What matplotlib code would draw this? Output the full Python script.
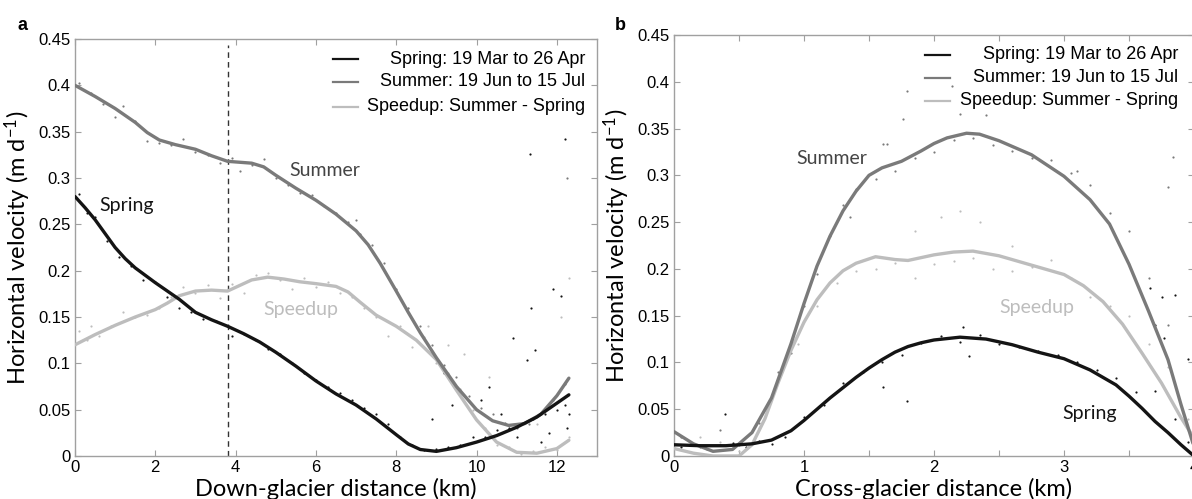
import matplotlib
matplotlib.use("Agg")
import matplotlib.pyplot as plt
from matplotlib.ticker import FormatStrFormatter, MultipleLocator

# ---- panel a: down-glacier profile (km, m/d) ----
a_spring_x = [0.0, 0.25, 0.5, 0.75, 1.0, 1.25, 1.5, 1.75, 2.0, 2.3, 2.6, 3.0, 3.4, 3.8, 4.2,
              4.6, 5.0, 5.5, 6.0, 6.5, 7.0, 7.5, 8.0, 8.3, 8.6, 9.0, 9.5, 10.0, 10.5, 11.0,
              11.5, 12.0, 12.3]
a_spring_y = [0.280, 0.268, 0.255, 0.240, 0.225, 0.213, 0.203, 0.195, 0.187, 0.178, 0.169,
              0.155, 0.147, 0.140, 0.132, 0.123, 0.112, 0.097, 0.081, 0.067, 0.055, 0.040,
              0.023, 0.013, 0.007, 0.005, 0.009, 0.015, 0.022, 0.031, 0.042, 0.057, 0.066]

a_summer_x = [0.0, 0.5, 1.0, 1.5, 1.8, 2.1, 2.5, 3.0, 3.4, 3.8, 4.1, 4.4, 4.7, 5.0, 5.5, 6.0,
              6.5, 7.0, 7.3, 7.6, 8.0, 8.3, 8.6, 9.0, 9.5, 10.0, 10.4, 10.8, 11.2, 11.6, 12.0,
              12.3]
a_summer_y = [0.400, 0.388, 0.375, 0.360, 0.349, 0.341, 0.336, 0.331, 0.324, 0.318, 0.317,
              0.316, 0.312, 0.303, 0.289, 0.276, 0.261, 0.243, 0.228, 0.208, 0.178, 0.155,
              0.133, 0.106, 0.075, 0.050, 0.038, 0.033, 0.035, 0.045, 0.065, 0.084]

a_speedup_x = [0.0, 0.5, 1.0, 1.5, 2.0, 2.3, 2.6, 3.0, 3.4, 3.8, 4.1, 4.4, 4.8, 5.2, 5.6, 6.0,
               6.5, 6.8, 7.1, 7.5, 8.0, 8.5, 9.0, 9.5, 10.0, 10.5, 11.0, 11.5, 12.0, 12.3]
a_speedup_y = [0.120, 0.131, 0.141, 0.150, 0.158, 0.165, 0.173, 0.178, 0.179, 0.178, 0.184,
               0.190, 0.193, 0.191, 0.188, 0.186, 0.183, 0.177, 0.166, 0.152, 0.140, 0.125,
               0.104, 0.071, 0.039, 0.015, 0.004, 0.003, 0.008, 0.017]

a_spring_dot_x = [0.1, 0.3, 0.5, 0.8, 1.1, 1.4, 1.7, 2.0, 2.3, 2.6, 2.9, 3.2, 3.5, 3.9, 4.2,
                  4.5, 4.8, 5.1, 5.4, 5.7, 6.0, 6.3, 6.6, 6.9, 7.2, 7.5, 7.8, 8.1, 8.4, 8.7,
                  9.0, 9.3, 9.6, 9.9, 10.2, 10.5, 10.8, 11.1, 11.4, 11.7, 12.0, 12.2, 9.2, 9.6,
                  10.1, 10.6, 10.9, 11.25, 11.35, 11.45, 11.9, 12.1, 11.0, 11.6, 12.25, 11.33,
                  12.2, 8.9, 9.4, 10.3, 11.8, 12.3]
a_spring_dot_y = [0.283, 0.262, 0.258, 0.232, 0.215, 0.205, 0.190, 0.188, 0.172, 0.160, 0.155,
                  0.148, 0.146, 0.130, 0.132, 0.125, 0.115, 0.110, 0.100, 0.090, 0.082, 0.075,
                  0.068, 0.060, 0.052, 0.045, 0.035, 0.020, 0.012, 0.006, 0.008, 0.010, 0.012,
                  0.020, 0.020, 0.028, 0.030, 0.035, 0.040, 0.045, 0.050, 0.055, 0.090, 0.070,
                  0.060, 0.045, 0.127, 0.104, 0.160, 0.114, 0.180, 0.173, 0.020, 0.015, 0.030,
                  0.326, 0.342, 0.040, 0.055, 0.075, 0.025, 0.045]

a_summer_dot_x = [0.1, 0.4, 0.7, 1.0, 1.2, 1.5, 1.8, 2.1, 2.4, 2.7, 3.0, 3.3, 3.6, 3.9, 4.1,
                  4.4, 4.7, 5.0, 5.3, 5.6, 5.9, 6.2, 6.5, 6.8, 7.1, 7.4, 7.7, 8.0, 8.3, 8.6,
                  8.9, 9.2, 9.5, 9.8, 10.1, 10.4, 10.7, 11.0, 11.3, 11.6, 11.9, 12.2, 7.0, 12.25]
a_summer_dot_y = [0.402, 0.392, 0.380, 0.366, 0.378, 0.362, 0.340, 0.338, 0.336, 0.342, 0.328,
                  0.325, 0.316, 0.322, 0.308, 0.314, 0.320, 0.300, 0.292, 0.284, 0.282, 0.270,
                  0.262, 0.252, 0.240, 0.228, 0.208, 0.180, 0.160, 0.140, 0.120, 0.098, 0.085,
                  0.065, 0.052, 0.045, 0.036, 0.030, 0.034, 0.045, 0.060, 0.078, 0.255, 0.300]

a_speedup_dot_x = [0.1, 0.3, 0.6, 0.9, 1.2, 1.5, 1.8, 2.1, 2.4, 2.7, 3.0, 3.3, 3.6, 3.9, 4.2,
                   4.5, 4.8, 5.1, 5.4, 5.7, 6.0, 6.3, 6.6, 6.9, 7.2, 7.5, 7.8, 8.1, 8.4, 8.7,
                   9.0, 9.3, 9.6, 9.9, 10.2, 10.5, 10.8, 11.1, 11.4, 11.7, 12.0, 12.3, 8.3, 8.8,
                   9.3, 9.7, 10.3, 11.5, 12.3, 12.1, 0.4]
a_speedup_dot_y = [0.135, 0.125, 0.130, 0.140, 0.155, 0.150, 0.152, 0.160, 0.172, 0.182, 0.176,
                   0.185, 0.170, 0.186, 0.176, 0.195, 0.198, 0.190, 0.180, 0.192, 0.182, 0.188,
                   0.176, 0.172, 0.160, 0.150, 0.130, 0.140, 0.118, 0.128, 0.100, 0.090, 0.072,
                   0.050, 0.030, 0.012, 0.010, 0.002, 0.005, 0.010, 0.006, 0.020, 0.160, 0.140,
                   0.120, 0.110, 0.085, 0.035, 0.192, 0.150, 0.140]

# ---- panel b: cross-glacier profile (km, m/d) ----
b_spring_x = [0.0, 0.2, 0.4, 0.6, 0.75, 0.9, 1.0, 1.1, 1.2, 1.3, 1.4, 1.5, 1.6, 1.7, 1.8,
              1.9, 2.0, 2.2, 2.4, 2.6, 2.8, 3.0, 3.2, 3.4, 3.5, 3.6, 3.7, 3.8, 3.9, 4.0]
b_spring_y = [0.012, 0.011, 0.011, 0.013, 0.017, 0.027, 0.038, 0.050, 0.062, 0.073, 0.084,
              0.094, 0.103, 0.111, 0.117, 0.121, 0.124, 0.127, 0.125, 0.119, 0.111, 0.104,
              0.092, 0.076, 0.064, 0.051, 0.037, 0.025, 0.012, 0.000]

b_summer_x = [0.0, 0.15, 0.3, 0.45, 0.6, 0.75, 0.9, 1.0, 1.1, 1.2, 1.3, 1.4, 1.5, 1.6, 1.75,
              1.9, 2.0, 2.1, 2.25, 2.35, 2.5, 2.75, 3.0, 3.2, 3.35, 3.5, 3.65, 3.8, 3.9, 4.0]
b_summer_y = [0.026, 0.013, 0.005, 0.007, 0.025, 0.062, 0.120, 0.163, 0.203, 0.235, 0.262,
              0.283, 0.300, 0.308, 0.315, 0.326, 0.334, 0.340, 0.345, 0.344, 0.337, 0.322,
              0.299, 0.274, 0.248, 0.205, 0.155, 0.103, 0.055, 0.010]

b_speedup_x = [0.0, 0.15, 0.3, 0.5, 0.6, 0.7, 0.8, 0.9, 1.0, 1.1, 1.2, 1.3, 1.4, 1.55, 1.7,
               1.8, 1.9, 2.0, 2.15, 2.3, 2.5, 2.75, 3.0, 3.15, 3.3, 3.45, 3.6, 3.75, 3.9, 4.0]
b_speedup_y = [0.008, 0.003, 0.000, 0.000, 0.012, 0.040, 0.078, 0.113, 0.143, 0.167, 0.185,
               0.198, 0.206, 0.213, 0.210, 0.209, 0.212, 0.215, 0.218, 0.219, 0.214, 0.204,
               0.194, 0.182, 0.165, 0.141, 0.110, 0.078, 0.041, 0.019]

b_spring_dot_x = [0.05, 0.15, 0.25, 0.35, 0.45, 0.55, 0.65, 0.75, 0.85, 1.0, 1.15, 1.3, 1.45,
                  1.6, 1.75, 1.9, 2.05, 2.2, 2.35, 2.5, 2.65, 2.8, 2.95, 3.1, 3.25, 3.4, 3.55,
                  3.7, 3.85, 3.95, 0.39, 1.61, 1.79, 2.27, 2.22, 3.66, 3.75, 3.85, 3.7, 3.95, 3.77]
b_spring_dot_y = [0.010, 0.013, 0.008, 0.012, 0.014, 0.010, 0.016, 0.013, 0.020, 0.042, 0.055,
                  0.078, 0.090, 0.100, 0.108, 0.121, 0.128, 0.122, 0.129, 0.120, 0.116, 0.112,
                  0.108, 0.100, 0.092, 0.083, 0.068, 0.070, 0.040, 0.015, 0.045, 0.074, 0.059,
                  0.107, 0.138, 0.180, 0.170, 0.172, 0.140, 0.104, 0.126]

b_summer_dot_x = [0.05, 0.2, 0.35, 0.5, 0.65, 0.8, 0.9, 1.0, 1.1, 1.2, 1.3, 1.4, 1.55, 1.7,
                  1.85, 2.0, 2.15, 2.3, 2.45, 2.6, 2.75, 2.9, 3.05, 3.2, 3.35, 3.5, 3.65, 3.8,
                  1.79, 1.76, 1.61, 1.64, 2.14, 2.2, 2.4, 3.84, 3.8, 1.35, 3.1]
b_summer_dot_y = [0.020, 0.010, 0.028, 0.012, 0.035, 0.090, 0.110, 0.160, 0.195, 0.235, 0.268,
                  0.285, 0.296, 0.305, 0.318, 0.325, 0.338, 0.340, 0.332, 0.326, 0.318, 0.316,
                  0.302, 0.290, 0.260, 0.240, 0.190, 0.140, 0.390, 0.360, 0.333, 0.334, 0.395,
                  0.366, 0.364, 0.320, 0.288, 0.255, 0.305]

b_speedup_dot_x = [0.05, 0.2, 0.35, 0.5, 0.65, 0.8, 0.95, 1.1, 1.25, 1.4, 1.55, 1.7, 1.85,
                   2.0, 2.15, 2.3, 2.45, 2.6, 2.75, 2.9, 3.05, 3.2, 3.35, 3.5, 3.65, 3.8, 3.95,
                   2.05, 2.2, 2.35, 1.85, 2.6]
b_speedup_dot_y = [0.012, 0.020, 0.015, 0.005, 0.030, 0.080, 0.120, 0.160, 0.185, 0.198, 0.200,
                   0.206, 0.190, 0.205, 0.208, 0.212, 0.200, 0.198, 0.202, 0.210, 0.190, 0.170,
                   0.160, 0.150, 0.120, 0.095, 0.040, 0.255, 0.262, 0.250, 0.240, 0.225]

legend_labels = ["Spring: 19 Mar to 26 Apr", "Summer: 19 Jun to 15 Jul",
                 "Speedup: Summer - Spring"]
divide_km = 3.8

SPRING_C = "#141414"
SUMMER_C = "#7a7a7a"
SPEEDUP_C = "#bdbdbd"
SPINE_C = "#a0a0a0"
TICK_FONT = "Liberation Sans"
LABEL_FONT = "Lato"

plt.rcParams["mathtext.fontset"] = "custom"
plt.rcParams["mathtext.rm"] = LABEL_FONT
plt.rcParams["mathtext.it"] = LABEL_FONT + ":italic"
plt.rcParams["mathtext.bf"] = LABEL_FONT + ":bold"


def style_axes(ax, xmax, xmajor, xminor):
    ax.set_xlim(0, xmax)
    ax.set_ylim(0, 0.45)
    ax.xaxis.set_major_locator(MultipleLocator(xmajor))
    if xminor:
        ax.xaxis.set_minor_locator(MultipleLocator(xminor))
    ax.yaxis.set_major_locator(MultipleLocator(0.05))
    ax.yaxis.set_major_formatter(FormatStrFormatter("%g"))
    ax.xaxis.set_major_formatter(FormatStrFormatter("%g"))
    for s in ax.spines.values():
        s.set_color(SPINE_C)
        s.set_linewidth(1.0)
    ax.tick_params(which="both", direction="in", top=True, right=True, color=SPINE_C,
                   length=4, width=0.8, labelsize=12, pad=3)
    for lab in ax.get_xticklabels() + ax.get_yticklabels():
        lab.set_fontfamily(TICK_FONT)
    ax.set_ylabel(r"Horizontal velocity (m d$^{\mathregular{-1}}$)", fontsize=17,
                  family=LABEL_FONT, labelpad=4)


def draw_series(ax, lines, dots):
    for (x, y, c) in dots:
        ax.scatter(x, y, s=2.5, color=c, linewidths=0, zorder=2)
    for (x, y, c) in lines:
        ax.plot(x, y, color=c, lw=2.4, solid_capstyle="round", solid_joinstyle="round",
                zorder=3)


def draw_legend(ax, x0, x1, xr, ys):
    colors = [SPRING_C, SUMMER_C, SPEEDUP_C]
    for label, c, y in zip(legend_labels, colors, ys):
        ax.plot([x0, x1], [y, y], color=c, lw=1.6, transform=ax.transAxes, zorder=4)
        ax.text(xr, y, label, ha="right", va="center", fontsize=13, family=TICK_FONT,
                transform=ax.transAxes, zorder=4)


fig = plt.figure(figsize=(11.92, 4.99), dpi=100)
ax_a = fig.add_axes([75 / 1192, 43 / 499, 522 / 1192, 417 / 499])
ax_b = fig.add_axes([674 / 1192, 43 / 499, 520 / 1192, 421 / 499])

# panel a
draw_series(ax_a,
            [(a_speedup_x, a_speedup_y, SPEEDUP_C), (a_summer_x, a_summer_y, SUMMER_C),
             (a_spring_x, a_spring_y, SPRING_C)],
            [(a_speedup_dot_x, a_speedup_dot_y, SPEEDUP_C),
             (a_summer_dot_x, a_summer_dot_y, SUMMER_C),
             (a_spring_dot_x, a_spring_dot_y, SPRING_C)])
ax_a.axvline(divide_km, ymax=0.985, color="#333333", lw=1.0, ls=(0, (4, 3)), zorder=1)
style_axes(ax_a, 13, 2, None)
ax_a.set_xlabel("Down-glacier distance (km)", fontsize=17, family=LABEL_FONT, labelpad=2)
ax_a.text(0.6, 0.270, "Spring", fontsize=14, family=LABEL_FONT, color=SPRING_C, va="center")
ax_a.text(5.35, 0.308, "Summer", fontsize=14, family=LABEL_FONT, color="#444444", va="center")
ax_a.text(4.7, 0.158, "Speedup", fontsize=14, family=LABEL_FONT, color=SPEEDUP_C, va="center")
draw_legend(ax_a, 0.494, 0.542, 0.978, [0.951, 0.898, 0.838])

# panel b
draw_series(ax_b,
            [(b_speedup_x, b_speedup_y, SPEEDUP_C), (b_summer_x, b_summer_y, SUMMER_C),
             (b_spring_x, b_spring_y, SPRING_C)],
            [(b_speedup_dot_x, b_speedup_dot_y, SPEEDUP_C),
             (b_summer_dot_x, b_summer_dot_y, SUMMER_C),
             (b_spring_dot_x, b_spring_dot_y, SPRING_C)])
style_axes(ax_b, 4, 1, 0.5)
ax_b.set_xlabel("Cross-glacier distance (km)", fontsize=17, family=LABEL_FONT, labelpad=2)
ax_b.text(0.94, 0.318, "Summer", fontsize=14, family=LABEL_FONT, color="#444444", va="center")
ax_b.text(2.5, 0.159, "Speedup", fontsize=14, family=LABEL_FONT, color=SPEEDUP_C, va="center")
ax_b.text(2.99, 0.045, "Spring", fontsize=14, family=LABEL_FONT, color=SPRING_C, va="center")
draw_legend(ax_b, 0.483, 0.53, 0.97, [0.953, 0.898, 0.844])

fig.text(17 / 1192, 1 - 25 / 499, "a", fontsize=13, fontweight="bold", family=TICK_FONT,
         va="center")
fig.text(615 / 1192, 1 - 25 / 499, "b", fontsize=13, fontweight="bold", family=TICK_FONT,
         va="center")

fig.savefig("out.png", dpi=100)
